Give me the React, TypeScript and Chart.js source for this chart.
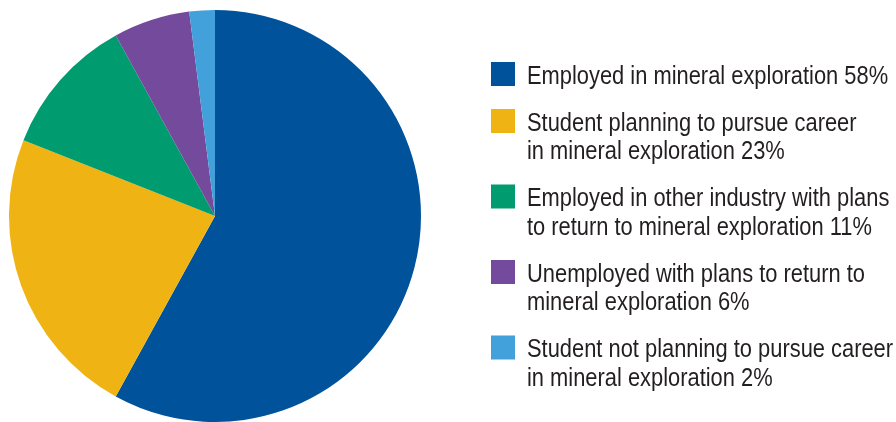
import { useEffect, useRef } from "react";
import { Chart, PieController, ArcElement } from "chart.js";

Chart.register(PieController, ArcElement);

// Survey categories (legend text lines) and their shares in percent
const categoryLines: string[][] = [
  ["Employed in mineral exploration"],
  ["Student planning to pursue career", "in mineral exploration"],
  ["Employed in other industry with plans", "to return to mineral exploration"],
  ["Unemployed with plans to return to", "mineral exploration"],
  ["Student not planning to pursue career", "in mineral exploration"],
];
const shares = [58, 23, 11, 6, 2];
const sliceColors = ["#00529b", "#efb313", "#009b6f", "#744a9c", "#42a0da"];

// Legend drawn to the right of the pie, with wrapped multi-line labels
// in a horizontally condensed sans serif.
const sideLegend = {
  id: "sideLegend",
  afterDraw(chart: Chart) {
    const ctx = chart.ctx;
    const boxX = 491;
    const boxSize = 24;
    const textX = 527;
    const lineHeight = 28.5;
    const itemGap = 18.5;
    const condense = 0.875;
    let baseline = 83.5;
    ctx.save();
    ctx.font = '25px "Liberation Sans", Arial, sans-serif';
    ctx.textBaseline = "alphabetic";
    ctx.textAlign = "left";
    categoryLines.forEach((lines, i) => {
      const text = lines.slice();
      text[text.length - 1] = `${text[text.length - 1]} ${shares[i]}%`;
      ctx.fillStyle = sliceColors[i];
      ctx.fillRect(boxX, baseline - 21.5, boxSize, boxSize);
      ctx.fillStyle = "#231f20";
      text.forEach((line, j) => {
        ctx.save();
        ctx.translate(textX, baseline + j * lineHeight);
        ctx.scale(condense, 1);
        ctx.fillText(line, 0, 0);
        ctx.restore();
      });
      baseline += text.length * lineHeight + itemGap;
    });
    ctx.restore();
  },
};

export default function App() {
  const canvasRef = useRef<HTMLCanvasElement | null>(null);

  useEffect(() => {
    const canvas = canvasRef.current;
    if (!canvas) return;
    const chart = new Chart(canvas, {
      type: "pie",
      data: {
        labels: categoryLines.map((l, i) => `${l.join(" ")} ${shares[i]}%`),
        datasets: [
          {
            data: shares,
            backgroundColor: sliceColors,
            borderWidth: 0,
          },
        ],
      },
      options: {
        responsive: true,
        maintainAspectRatio: false,
        animation: false,
        layout: { padding: { left: 9, top: 10, right: 475, bottom: 0 } },
        plugins: {},
      },
      plugins: [sideLegend],
    });
    return () => chart.destroy();
  }, []);

  return (
    <div
      style={{
        position: "fixed",
        left: 0,
        top: 0,
        width: 896,
        height: 422,
        background: "#ffffff",
      }}
    >
      <canvas ref={canvasRef} />
    </div>
  );
}
